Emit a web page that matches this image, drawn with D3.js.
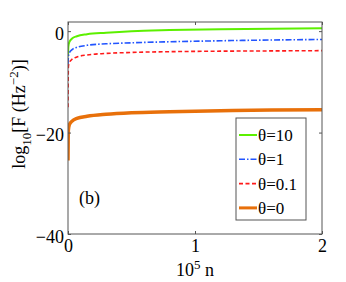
<!DOCTYPE html>
<html>
<head>
<meta charset="utf-8">
<script src="https://cdn.jsdelivr.net/npm/d3@7"></script>
<style>
  body { margin: 0; background: #fff; }
  svg { display: block; }
  text { font-family: "Times New Roman", Times, "Liberation Serif", "DejaVu Serif", serif; fill: #000; }
</style>
</head>
<body>
<div id="chart"></div>
<script>
// n in units of 1e5
const nValues = [0, 0.003, 0.01, 0.03, 0.07, 0.15, 0.3, 0.5, 0.8, 1.2, 1.6, 2.0];
const theta10 = [-5.0, -3.0, -2.2, -1.5, -1.0, -0.6, -0.3, 0.0, 0.2, 0.35, 0.45, 0.55];
const theta1 = [-6.5, -5.0, -4.3, -3.7, -3.2, -2.8, -2.5, -2.3, -2.1, -1.9, -1.75, -1.65];
const theta01 = [-15.0, -7.0, -6.2, -5.6, -5.1, -4.7, -4.4, -4.2, -4.05, -3.95, -3.9, -3.85];
const theta0 = [-25.5, -19.5, -18.5, -17.8, -17.2, -16.8, -16.4, -16.1, -15.9, -15.7, -15.55, -15.5];

const seriesNames = ['θ=10', 'θ=1', 'θ=0.1', 'θ=0'];
const xTicks = [0, 1, 2];
const yTicks = [0, -20, -40];

const W = 346, H = 282;
const margin = { left: 68, top: 22, right: 24, bottom: 48 };
const serif = '"Times New Roman", Times, "Liberation Serif", serif';

const styles = [
    { color: '#5cf000', width: 2, dash: null },
    { color: '#2255ff', width: 1.6, dash: '6,2,1.5,2' },
    { color: '#ff1a1a', width: 1.6, dash: '4,2.5' },
    { color: '#e8700a', width: 3.5, dash: null },
];

const svg = d3.select('#chart')
    .append('svg')
    .attr('width', W)
    .attr('height', H);

const x = d3.scaleLinear()
    .domain([0, 2])
    .range([margin.left, W - margin.right]);

const y = d3.scaleLinear()
    .domain([-40, 1.8])
    .range([H - margin.bottom, margin.top]);

svg.append('clipPath').attr('id', 'plotclip')
    .append('rect')
    .attr('x', x(0))
    .attr('y', y(1.8))
    .attr('width', x(2) - x(0))
    .attr('height', y(-40) - y(1.8));

const line = d3.line()
    .x(d => x(d[0]))
    .y(d => y(d[1]))
    .curve(d3.curveMonotoneX);

const allSeries = [theta10, theta1, theta01, theta0];

allSeries.forEach((vals, i) => {
    const pts = nValues.map((n, j) => [n, vals[j]]);
    svg.append('path')
        .datum(pts)
        .attr('clip-path', 'url(#plotclip)')
        .attr('fill', 'none')
        .attr('stroke', styles[i].color)
        .attr('stroke-width', styles[i].width)
        .attr('stroke-dasharray', styles[i].dash)
        .attr('d', line);
});

// box
svg.append('rect')
    .attr('x', x(0))
    .attr('y', y(1.8))
    .attr('width', x(2) - x(0))
    .attr('height', y(-40) - y(1.8))
    .attr('fill', 'none')
    .attr('stroke', '#555')
    .attr('stroke-width', 1);

// axes, ticks pointing inward
const xAxisB = d3.axisBottom(x).tickValues(xTicks).tickSizeInner(-3).tickSizeOuter(0).tickPadding(5)
    .tickFormat(d3.format('d'));
const xAxisT = d3.axisTop(x).tickValues(xTicks).tickSizeInner(-3).tickSizeOuter(0).tickFormat('');
const yAxisL = d3.axisLeft(y).tickValues(yTicks).tickSizeInner(-3).tickSizeOuter(0).tickPadding(4)
    .tickFormat(d => d < 0 ? '\u2212' + Math.abs(d) : d);
const yAxisR = d3.axisRight(y).tickValues(yTicks).tickSizeInner(-3).tickSizeOuter(0).tickFormat('');

function styleAxis(g) {
    g.attr('font-family', serif);
    g.select('.domain').remove();
    g.selectAll('line').attr('stroke', '#555');
    g.selectAll('text').attr('font-size', 18).attr('fill', '#000');
}

svg.append('g').attr('transform', `translate(0,${y(-40)})`).call(xAxisB).call(styleAxis);
svg.append('g').attr('transform', `translate(0,${y(1.8)})`).call(xAxisT).call(styleAxis);
svg.append('g').attr('transform', `translate(${x(0)},0)`).call(yAxisL).call(styleAxis)
    .selectAll('text').attr('dy', '0.45em');
svg.append('g').attr('transform', `translate(${x(2)},0)`).call(yAxisR).call(styleAxis);

// x label
const xl = svg.append('text')
    .attr('x', x(1))
    .attr('y', 276)
    .attr('text-anchor', 'middle')
    .attr('font-size', 18);
xl.append('tspan').text('10');
xl.append('tspan').attr('dy', -7).attr('font-size', 13).text('5');
xl.append('tspan').attr('dy', 7).text(' n');

// y label
const yl = svg.append('text')
    .attr('transform', 'translate(25,114) rotate(-90)')
    .attr('text-anchor', 'middle')
    .attr('font-size', 18);
yl.append('tspan').text('log');
yl.append('tspan').attr('dy', 6).attr('font-size', 13).text('10');
yl.append('tspan').attr('dy', -6).text('[F (Hz');
yl.append('tspan').attr('dy', -7).attr('font-size', 13).text('\u22122');
yl.append('tspan').attr('dy', 7).text(')]');

// panel tag
svg.append('text')
    .attr('x', 79)
    .attr('y', 204)
    .attr('font-size', 18)
    .text('(b)');

// legend
const legend = svg.append('g');
legend.append('rect')
    .attr('x', 236)
    .attr('y', 118)
    .attr('width', 70)
    .attr('height', 102)
    .attr('fill', '#fff')
    .attr('stroke', '#555')
    .attr('stroke-width', 1);

seriesNames.forEach((name, i) => {
    const cy = 135 + i * 24.3;
    legend.append('line')
        .attr('x1', 239)
        .attr('x2', 257)
        .attr('y1', cy)
        .attr('y2', cy)
        .attr('stroke', styles[i].color)
        .attr('stroke-width', Math.min(styles[i].width, 3))
        .attr('stroke-dasharray', styles[i].dash);
    legend.append('text')
        .attr('x', 258)
        .attr('y', cy + 6)
        .attr('font-size', 17)
        .text(name);
});
</script>
</body>
</html>
